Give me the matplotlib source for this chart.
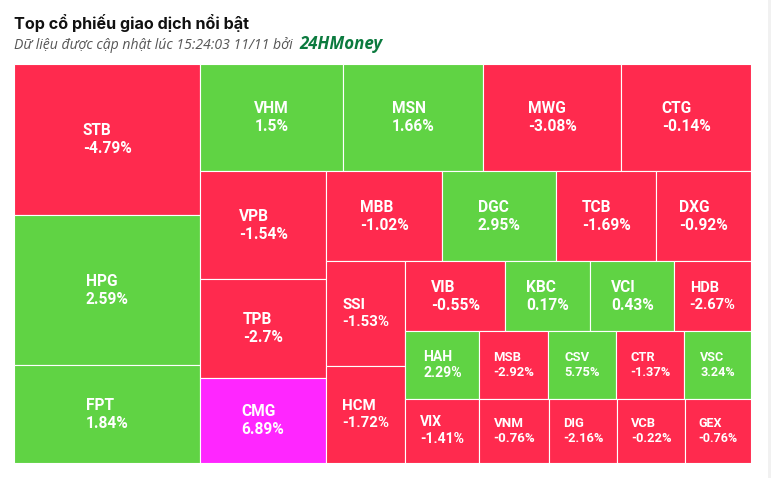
import matplotlib
matplotlib.use('Agg')
import matplotlib.pyplot as plt
from matplotlib.patches import Rectangle

# du lieu: ma co phieu, % thay doi, gia tri giao dich (uoc luong tu dien tich o)
tickers = ['STB', 'HPG', 'FPT', 'VHM', 'MSN', 'MWG', 'CTG', 'VPB', 'TPB', 'CMG',
           'MBB', 'DGC', 'TCB', 'DXG', 'SSI', 'HCM', 'VIB', 'KBC', 'VCI', 'HDB',
           'HAH', 'VIX', 'MSB', 'CSV', 'CTR', 'VSC', 'VNM', 'DIG', 'VCB', 'GEX']
changes = [-4.79, 2.59, 1.84, 1.5, 1.66, -3.08, -0.14, -1.54, -2.7, 6.89,
           -1.02, 2.95, -1.69, -0.92, -1.53, -1.72, -0.55, 0.17, 0.43, -2.67,
           2.29, -1.41, -2.92, 5.75, -1.37, 3.24, -0.76, -2.16, -0.22, -0.76]
gia_tri = [280.6, 280.4, 181.2, 153.8, 149.6, 148.7, 139.2, 136.1, 124.4, 106.7,
           104.7, 102.6, 90.0, 85.2, 83.3, 76.5, 69.7, 59.3, 58.6, 53.5,
           50.3, 47.1, 46.7, 46.6, 46.1, 45.4, 44.7, 43.3, 43.2, 41.9]

title = 'Top cổ phiếu giao dịch nổi bật'
subtitle = 'Dữ liệu được cập nhật lúc 15:24:03 11/11 bởi '
brand = '24HMoney'

RED = '#ff2a4e'
GREEN = '#60d344'
PURPLE = '#ff26ff'


def color_for(pct):
    if pct >= 6.8:
        return PURPLE
    if pct > 0:
        return GREEN
    if pct < 0:
        return RED
    return '#f5c518'


def ratio(thick, a):
    length = a / thick
    return max(thick / length, length / thick)


def squarify_alt(values, W, H):
    # squarified, doi huong sau moi dai (kieu highcharts)
    total = sum(values)
    areas = [v / total * W * H for v in values]
    rects = []
    x0, y0, w, h = 0.0, 0.0, W, H
    d = 0
    row = []

    def place(row, d, x0, y0, w, h):
        s = sum(row)
        if d == 0:
            t = s / h
            y = y0
            for a in row:
                rects.append((x0, y, t, a / t))
                y += a / t
            return x0 + t, y0, w - t, h
        t = s / w
        x = x0
        for a in row:
            rects.append((x, y0, a / t, t))
            x += a / t
        return x0, y0 + t, w, h - t

    i = 0
    while i < len(areas):
        a = areas[i]
        if row:
            side = h if d == 0 else w
            old_t = sum(row) / side
            new_t = (sum(row) + a) / side
            if ratio(new_t, row[-1]) > ratio(old_t, row[-1]):
                x0, y0, w, h = place(row, d, x0, y0, w, h)
                d = 1 - d
                row = []
                continue
        row.append(a)
        i += 1
    place(row, d, x0, y0, w, h)
    return rects


fig = plt.figure(figsize=(7.71, 4.78), dpi=100)
FW, FH = 771, 478

W, H = 737.0, 398.7
ax = fig.add_axes([14 / FW, (FH - 462.7) / FH, W / FW, H / FH])
ax.set_xlim(0, W)
ax.set_ylim(H, 0)
ax.axis('off')

rects = squarify_alt(gia_tri, W, H)
for (x, y, w, h), tk, pct in zip(rects, tickers, changes):
    ax.add_patch(Rectangle((x, y), w, h, facecolor=color_for(pct),
                           edgecolor='white', linewidth=0.8))
    fs = min(15.5, 0.19 * w) * 72 / 100
    ax.text(x + w / 2, y + h / 2, f'{tk}\n{pct:g}%', color='white',
            fontsize=fs, fontweight='bold', family='Roboto',
            ha='center', va='center', multialignment='left', linespacing=1.25)

# thanh xam mo ben phai
fig.patches.append(Rectangle((768 / FW, 0), 3 / FW, 1, transform=fig.transFigure,
                             facecolor='#f1f1f1', edgecolor='none'))

fig.text(14 / FW, 1 - 29.5 / FH, title, fontsize=11.6, fontweight='bold',
         family='Inter', color='#111111', va='baseline')
sub = fig.text(14 / FW, 1 - 49 / FH, subtitle, fontsize=10.1, style='italic',
               family='Open Sans', color='#555555', va='baseline')
fig.canvas.draw()
bb = sub.get_window_extent()
fig.text(bb.x1 / FW + 3 / FW, 1 - 49 / FH, brand, fontsize=12.2, style='italic',
         fontweight='bold', family='Open Sans', color='#0b7a3e', va='baseline')

fig.savefig('out.png', dpi=100)
